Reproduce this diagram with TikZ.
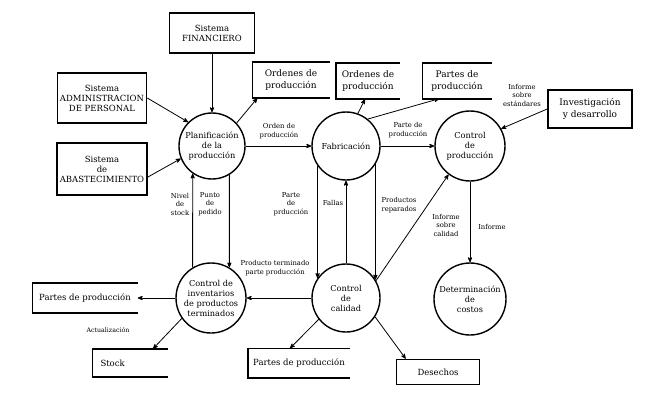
\documentclass[tikz,border=0pt]{standalone}
\usepackage{fontspec}
\setmainfont{DejaVu Serif}
\usetikzlibrary{arrows}

\begin{document}
\begin{tikzpicture}[x=1pt,y=-1pt,>=stealth']
    \tikzstyle{proc} = [circle,minimum size=68pt,inner sep=0pt,align=center,draw=black,line width=1.4pt,font=\fontsize{8.2}{10}\selectfont]
    \tikzstyle{ext} = [rectangle,inner sep=0pt,align=center,draw=black,line width=1.6pt,font=\fontsize{8.5}{10}\selectfont]
    \tikzstyle{store} = [rectangle,inner sep=0pt,align=center,font=\fontsize{8.5}{12}\selectfont]
    \tikzstyle{flow} = [->,line width=0.8pt]
    \tikzstyle{lbl} = [align=center,inner sep=0pt,font=\fontsize{6.8}{8.5}\selectfont]

    \useasboundingbox (0,0) rectangle (661,412);

    % entidades externas
    \node (fin) [ext,minimum width=85pt,minimum height=40pt] at (212,33) {Sistema\\FINANCIERO};
    \node (adm) [ext,minimum width=89pt,minimum height=50pt] at (102,98) {Sistema\\ADMINISTRACION\\DE PERSONAL};
    \node (abas) [ext,minimum width=90pt,minimum height=52pt] at (102,169) {Sistema\\de\\ABASTECIMIENTO};
    \node (inv) [ext,minimum width=84pt,minimum height=38pt,font=\fontsize{9}{11.5}\selectfont] at (590,109) {Investigación\\y desarrollo};
    \node (des) [ext,minimum width=83pt,minimum height=25pt] at (438,372) {Desechos};

    % procesos
    \node (plan) [proc,minimum size=66pt] at (212,146) {Planificación\\de la\\producción};
    \node (fab) [proc] at (346,146) {Fabricación};
    \node (cprod) [proc,minimum size=70pt] at (470,146) {Control\\de\\producción};
    \node (cinv) [proc,minimum size=70pt] at (211,298) {Control de\\inventarios\\de productos\\terminados};
    \node (cal) [proc] at (346,298) {Control\\de\\calidad};
    \node (cost) [proc,minimum size=72pt] at (470,299) {Determinación\\de\\costos};

    % almacenes
    \node (ordA) [store,minimum width=77pt,minimum height=36pt,font=\fontsize{9}{12}\selectfont] at (291,80) {Ordenes de\\producción};
    \node (ordB) [store,minimum width=64pt,minimum height=36pt,font=\fontsize{9}{12}\selectfont] at (368,81) {Ordenes de\\producción};
    \node (partA) [store,minimum width=69pt,minimum height=35pt,font=\fontsize{9}{12}\selectfont] at (457,81) {Partes de\\producción};
    \node (partB) [store,minimum width=105pt,minimum height=30pt] at (85,298) {Partes de producción};
    \node (stock) [store,minimum width=75pt,minimum height=28pt,text width=59pt,align=left] at (130,363) {Stock};
    \node (partC) [store,minimum width=102pt,minimum height=29pt] at (299,363) {Partes de producción};
    \foreach \s in {ordA,ordB,partA,partB,stock,partC}
        \draw [line width=1.6pt] (\s.north east) -- (\s.north west) -- (\s.south west) -- (\s.south east);

    % flujos
    \draw [flow] (fin) -- (plan);
    \draw [flow] (adm.east) -- (plan.135);
    \draw [flow] (abas.-10) -- (plan.-158);
    \draw [flow] (plan.43) -- ([xshift=5pt]ordA.south west);
    \draw [flow] (plan) -- (fab);
    \draw [flow] (fab.70) -- ([xshift=-3pt]ordB.south);
    \draw [flow] (fab.51) -- ([xshift=17pt]partA.south west);
    \draw [flow] (fab) -- (cprod);
    \draw [flow] (inv.west) -- (cprod.29);
    \draw [flow] (cprod) -- (cost);
    \draw [flow] (cal.30) -- (cprod.-127);
    \draw [flow] (cinv.121) -- (plan.-125);
    \draw [flow] (plan.-59) -- (cinv.59);
    \draw [flow] (fab.-145) -- (cal.145);
    \draw [flow] (cal) -- (fab);
    \draw [flow] (fab.-32) -- (cal.32);
    \draw [flow] (cal) -- (cinv);
    \draw [flow] (cinv) -- (partB.east);
    \draw [flow] (cinv.-145) -- ([xshift=23pt]stock.north);
    \draw [flow] (cal.-142) -- ([xshift=-9pt]partC.north);
    \draw [flow] (cal.-33) -- ([xshift=10pt]des.north west);

    % etiquetas
    \node (lOrden) [lbl] at (279,131) {Orden de\\producción};
    \node (lParte) [lbl] at (408,130) {Parte de\\producción};
    \node (lEstand) [lbl] at (522,95) {Informe\\sobre\\estándares};
    \node (lNivel) [lbl] at (180,204) {Nivel\\de\\stock};
    \node (lPunto) [lbl] at (210,204) {Punto\\de\\pedido};
    \node (lParteCal) [lbl] at (291,204) {Parte\\de\\prducción};
    \node (lFallas) [lbl] at (333,203) {Fallas};
    \node (lRepar) [lbl] at (399,205) {Productos\\reparados};
    \node (lCalidad) [lbl] at (446,225) {Informe\\sobre\\calidad};
    \node (lInforme) [lbl] at (492,227) {Informe};
    \node (lTerm) [lbl] at (275,268) {Producto terminado\\parte producción};
    \node (lAct) [lbl,font=\fontsize{6.3}{8}\selectfont] at (108,330) {Actualización};
\end{tikzpicture}
\end{document}
